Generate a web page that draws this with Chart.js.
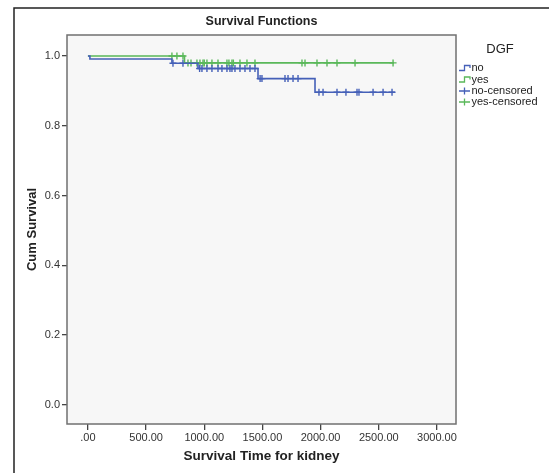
<!DOCTYPE html>
<html>
<head>
<meta charset="utf-8">
<script src="https://cdn.jsdelivr.net/npm/chart.js@4"></script>
<style>
    html, body { margin: 0; padding: 0; background: #fff; }
    #wrap { width: 549px; height: 473px; }
</style>
</head>
<body>
<div id="wrap"><canvas id="chart" width="549" height="473"></canvas></div>
<script>
// Kaplan-Meier steps
const noTimes = [0, 17, 722, 946, 1462, 1952, 2640];
const noSurv = [1.0, 0.991, 0.979, 0.964, 0.935, 0.896, 0.896];
const yesTimes = [0, 830, 2630];
const yesSurv = [1.0, 0.980, 0.980];

// censored observations (times)
const noCensored = [731, 817, 960, 980, 1023, 1066, 1118, 1152, 1195, 1221, 1238, 1264, 1307, 1350,
    1393, 1436, 1480, 1496, 1694, 1720, 1763, 1806, 1986, 2021, 2141, 2218, 2313, 2330, 2451, 2537, 2614];
const yesCensored = [722, 765, 817, 860, 886, 937, 963, 989, 1000, 1023, 1066, 1118, 1195, 1212,
    1238, 1250, 1307, 1367, 1436, 1840, 1866, 1969, 2055, 2141, 2296, 2623];

const xTicks = [0, 500, 1000, 1500, 2000, 2500, 3000];
const yTicks = [0, 0.2, 0.4, 0.6, 0.8, 1.0];

const legendLabels = ['no', 'yes', 'no-censored', 'yes-censored'];

const COLORS = {
    no: '#4560b8',
    yes: '#5ab85a',
    text: '#222222',
    axis: '#707070'
};

const FONT = "'Liberation Sans', Arial, sans-serif";

// value of a step curve at time t
function survAt(times, surv, t) {
    let s = surv[0];
    for (let i = 0; i < times.length; i++) {
        if (times[i] <= t) s = surv[i];
    }
    return s;
}

const toPoints = (xs, ys) => xs.map((x, i) => ({ x: x, y: ys[i] }));
const censorPoints = (cens, times, surv) => cens.map(t => ({ x: t, y: survAt(times, surv, t) }));

const framePlugin = {
    id: 'frame',
    beforeDraw(chart) {
        const ctx = chart.ctx;
        const a = chart.chartArea;
        ctx.save();
        ctx.fillStyle = '#fff';
        ctx.fillRect(0, 0, chart.width, chart.height);
        // outer frame (left + top)
        ctx.strokeStyle = '#222';
        ctx.lineWidth = 1.5;
        ctx.beginPath();
        ctx.moveTo(14, chart.height);
        ctx.lineTo(14, 8);
        ctx.lineTo(chart.width, 8);
        ctx.stroke();
        // plot background
        ctx.fillStyle = '#f7f7f7';
        ctx.fillRect(a.left, a.top, a.right - a.left, a.bottom - a.top);
        ctx.restore();
    },
    afterDatasetsDraw(chart) {
        const ctx = chart.ctx;
        const a = chart.chartArea;
        ctx.save();
        ctx.strokeStyle = COLORS.axis;
        ctx.lineWidth = 1.5;
        ctx.strokeRect(a.left, a.top, a.right - a.left, a.bottom - a.top);
        ctx.restore();
    },
    afterDraw(chart) {
        const ctx = chart.ctx;
        ctx.save();
        ctx.fillStyle = COLORS.text;
        ctx.font = '13px ' + FONT;
        ctx.textAlign = 'center';
        ctx.textBaseline = 'middle';
        ctx.fillText('DGF', 500, 49);

        ctx.font = '11px ' + FONT;
        ctx.textAlign = 'left';
        const x0 = 459, x1 = 470;
        const rows = [68, 79.5, 91, 102];
        const cols = [COLORS.no, COLORS.yes, COLORS.no, COLORS.yes];
        legendLabels.forEach((lab, i) => {
            const y = rows[i];
            ctx.strokeStyle = cols[i];
            ctx.lineWidth = 1.3;
            ctx.beginPath();
            if (i < 2) {
                ctx.moveTo(x0, y + 2.5);
                ctx.lineTo(x0 + 5.5, y + 2.5);
                ctx.lineTo(x0 + 5.5, y - 2.5);
                ctx.lineTo(x1, y - 2.5);
                ctx.lineTo(x1, y);
            } else {
                ctx.moveTo(x0, y);
                ctx.lineTo(x1, y);
                ctx.moveTo(x0 + 5.5, y - 3.5);
                ctx.lineTo(x0 + 5.5, y + 3.5);
            }
            ctx.stroke();
            ctx.fillStyle = COLORS.text;
            ctx.fillText(lab, x1 + 1.5, y);
        });
        ctx.restore();
    }
};

new Chart(document.getElementById('chart'), {
    type: 'scatter',
    data: {
        datasets: [{
            label: 'no',
            type: 'line',
            data: toPoints(noTimes, noSurv),
            borderColor: COLORS.no,
            borderWidth: 1.6,
            stepped: 'before',
            pointRadius: 0,
            fill: false
        }, {
            label: 'yes',
            type: 'line',
            data: toPoints(yesTimes, yesSurv),
            borderColor: COLORS.yes,
            borderWidth: 1.6,
            stepped: 'before',
            pointRadius: 0,
            fill: false
        }, {
            label: 'no-censored',
            data: censorPoints(noCensored, noTimes, noSurv),
            pointStyle: 'cross',
            pointRadius: 3.5,
            borderColor: COLORS.no,
            backgroundColor: COLORS.no,
            pointBorderWidth: 1.4
        }, {
            label: 'yes-censored',
            data: censorPoints(yesCensored, yesTimes, yesSurv),
            pointStyle: 'cross',
            pointRadius: 3.5,
            borderColor: COLORS.yes,
            backgroundColor: COLORS.yes,
            pointBorderWidth: 1.4
        }]
    },
    options: {
        responsive: false,
        animation: false,
        layout: {
            padding: { left: 14, right: 93, top: 0, bottom: 0 }
        },
        scales: {
            x: {
                type: 'linear',
                min: -180,
                max: 3164,
                afterBuildTicks: scale => { scale.ticks = xTicks.map(v => ({ value: v })); },
                afterFit: scale => { scale.height = 49; },
                grid: { display: true, drawOnChartArea: false, drawTicks: true, tickLength: 6, color: '#444', lineWidth: 1.3 },
                border: { display: false },
                ticks: {
                    padding: 1,
                    color: '#333',
                    font: { family: FONT, size: 11 },
                    maxRotation: 0,
                    callback: v => v === 0 ? '.00' : v.toFixed(2)
                },
                title: {
                    display: true,
                    text: 'Survival Time for kidney',
                    color: COLORS.text,
                    font: { family: FONT, size: 13.5, weight: 'bold' },
                    padding: { top: 0, bottom: 9 }
                }
            },
            y: {
                type: 'linear',
                min: -0.055,
                max: 1.06,
                afterBuildTicks: scale => { scale.ticks = yTicks.map(v => ({ value: v })); },
                afterFit: scale => { scale.width = 53; },
                grid: { display: true, drawOnChartArea: false, drawTicks: true, tickLength: 5, color: '#444', lineWidth: 1.3 },
                border: { display: false },
                ticks: {
                    padding: 2,
                    color: '#333',
                    font: { family: FONT, size: 11 },
                    callback: v => v.toFixed(1)
                },
                title: {
                    display: true,
                    text: 'Cum Survival',
                    color: COLORS.text,
                    font: { family: FONT, size: 13, weight: 'bold' },
                    padding: { top: 11, bottom: 0 }
                }
            }
        },
        plugins: {
            legend: { display: false },
            tooltip: { enabled: false },
            title: {
                display: true,
                text: 'Survival Functions',
                fullSize: false,
                color: COLORS.text,
                font: { family: FONT, size: 12.5, weight: 'bold' },
                padding: { top: 14, bottom: 6 }
            }
        }
    },
    plugins: [framePlugin]
});
</script>
</body>
</html>
